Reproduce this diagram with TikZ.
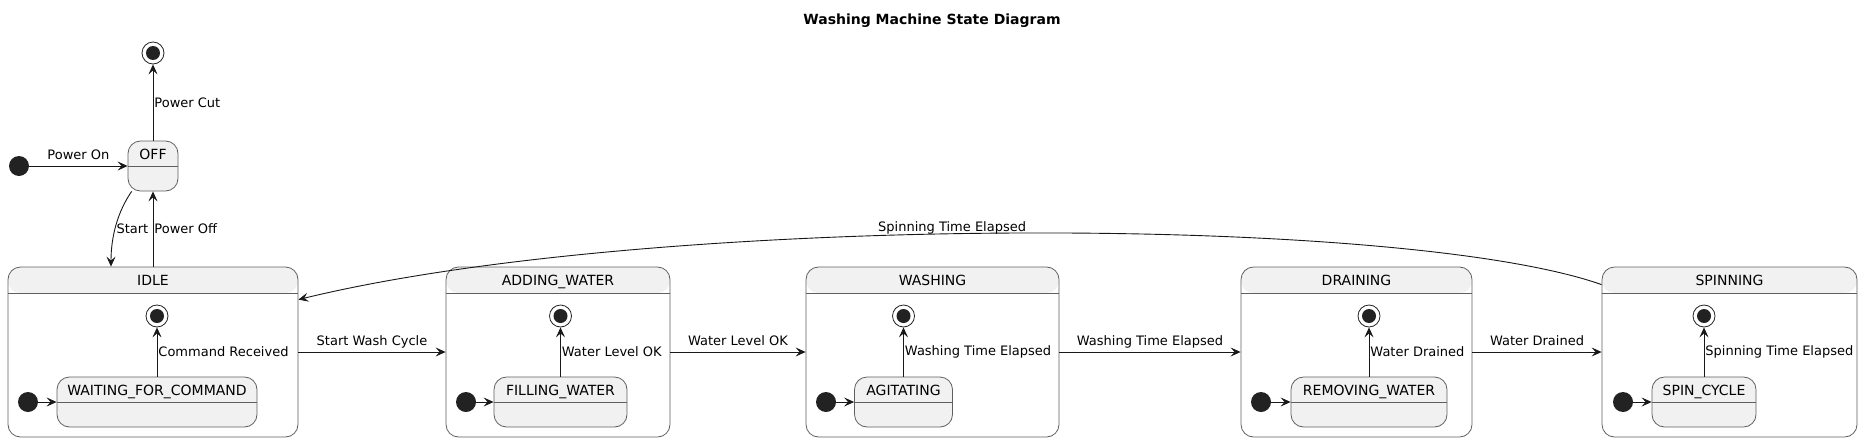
\documentclass[tikz,border=0pt]{standalone}
\usepackage{fontspec}
\setmainfont{DejaVu Sans}
\usetikzlibrary{arrows.meta}

\definecolor{stateFill}{HTML}{F1F1F1}
\definecolor{stateLine}{HTML}{5F5F5F}
\definecolor{dotFill}{HTML}{222222}
\definecolor{arrowLine}{HTML}{181818}

\newcommand{\namefont}{\fontsize{14}{16}\selectfont}
\newcommand{\lblfont}{\fontsize{13}{15}\selectfont}

\begin{document}
\begin{tikzpicture}[x=1pt, y=-1pt]
	% Node styles
	\tikzstyle{composite} = [rectangle, draw=stateLine, line width=0.8pt, fill=white, rounded corners=12.5pt, inner xsep=0pt, inner ysep=0pt, text height=18.5pt, text depth=151.5pt, font=\namefont,
		path picture={\fill[stateFill] (path picture bounding box.north west) rectangle ([yshift=-26pt]path picture bounding box.north east);
			\draw[stateLine, line width=0.8pt] ([yshift=-26pt]path picture bounding box.north west) -- ([yshift=-26pt]path picture bounding box.north east);}]
	\tikzstyle{simplestate} = [rectangle, draw=stateLine, line width=0.8pt, fill=stateFill, rounded corners=12.5pt, inner xsep=0pt, inner ysep=0pt, text height=18.5pt, text depth=31.5pt, font=\namefont,
		path picture={\draw[stateLine, line width=0.8pt] ([yshift=-25.5pt]path picture bounding box.north west) -- ([yshift=-25.5pt]path picture bounding box.north east);}]
	\tikzstyle{startdot} = [circle, fill=dotFill, minimum size=20pt, inner sep=0pt]
	\tikzstyle{enddot} = [circle, draw=dotFill, line width=0.8pt, fill=white, minimum size=22pt, inner sep=0pt,
		path picture={\fill[dotFill] (path picture bounding box.center) circle (7pt);}]
	\tikzstyle{trans} = [draw=arrowLine, line width=0.9pt, -{Stealth[length=10pt, width=9pt, inset=4pt]}]
	\tikzstyle{lbl} = [font=\lblfont, inner sep=1pt, text=black]

	\useasboundingbox (0,0) rectangle (1865,442);

	% Title
	\node[lbl, font=\bfseries\namefont, anchor=base] (title) at (932,24) {Washing Machine State Diagram};

	% Nodes
	\node[startdot] (offStart) at (19,166) {};
	\node[simplestate, minimum width=50pt] (off) at (153,166) {OFF};
	\node[enddot] (offEnd) at (153,53) {};

	\node[composite, minimum width=290pt] (idle) at (153,352) {IDLE};
	\node[enddot] (idleEnd) at (157,316) {};
	\node[startdot] (idleStart) at (28,402) {};
	\node[simplestate, minimum width=200pt] (waitingForCommand) at (157,402) {WAITING\_FOR\_COMMAND};

	\node[composite, minimum width=224pt] (addingWater) at (558,352) {ADDING\_WATER};
	\node[enddot] (addingWaterEnd) at (560.5,316) {};
	\node[startdot] (addingWaterStart) at (466,402) {};
	\node[simplestate, minimum width=133pt] (fillingWater) at (560.5,402) {FILLING\_WATER};

	\node[composite, minimum width=253pt] (washing) at (932.5,352) {WASHING};
	\node[enddot] (washingEnd) at (903.5,316) {};
	\node[startdot] (washingStart) at (826,402) {};
	\node[simplestate, minimum width=98pt] (agitating) at (903.5,402) {AGITATING};

	\node[composite, minimum width=231pt] (draining) at (1356.5,352) {DRAINING};
	\node[enddot] (drainingEnd) at (1369,316) {};
	\node[startdot] (drainingStart) at (1261,402) {};
	\node[simplestate, minimum width=156pt] (removingWater) at (1369,402) {REMOVING\_WATER};

	\node[composite, minimum width=255pt] (spinning) at (1729.5,352) {SPINNING};
	\node[enddot] (spinningEnd) at (1704,316) {};
	\node[startdot] (spinningStart) at (1623,402) {};
	\node[simplestate, minimum width=104pt] (spinCycle) at (1704,402) {SPIN\_CYCLE};

	% Arrows
	\draw[trans] (offStart) -- node[lbl, anchor=base, yshift=7pt] {Power On} (off);
	\draw[trans] (off) -- node[lbl, right] {Power Cut} (offEnd);
	\draw[trans] (off.230) .. controls +(-14,20) and +(0,-30) .. node[lbl, pos=0.55, anchor=west] {Start} ([xshift=-42pt]idle.north);
	\draw[trans] (idle.north) -- node[lbl, right] {Power Off} (off);

	\draw[trans] (idle) -- node[lbl, anchor=base, yshift=7pt] {Start Wash Cycle} (addingWater);
	\draw[trans] (addingWater) -- node[lbl, anchor=base, yshift=7pt] {Water Level OK} (washing);
	\draw[trans] (washing) -- node[lbl, anchor=base, yshift=7pt] {Washing Time Elapsed} (draining);
	\draw[trans] (draining) -- node[lbl, anchor=base, yshift=7pt] {Water Drained} (spinning);
	\draw[trans] ([yshift=-18pt]spinning.north west) .. controls +(-202,-71) and +(352,-86) .. node[lbl, pos=0.535, anchor=base, yshift=2pt] {Spinning Time Elapsed} ([yshift=-33pt]idle.north east);

	\draw[trans] (idleStart) -- (waitingForCommand);
	\draw[trans] (waitingForCommand) -- node[lbl, right] {Command Received} (idleEnd);
	\draw[trans] (addingWaterStart) -- (fillingWater);
	\draw[trans] (fillingWater) -- node[lbl, right] {Water Level OK} (addingWaterEnd);
	\draw[trans] (washingStart) -- (agitating);
	\draw[trans] (agitating) -- node[lbl, right] {Washing Time Elapsed} (washingEnd);
	\draw[trans] (drainingStart) -- (removingWater);
	\draw[trans] (removingWater) -- node[lbl, right] {Water Drained} (drainingEnd);
	\draw[trans] (spinningStart) -- (spinCycle);
	\draw[trans] (spinCycle) -- node[lbl, right] {Spinning Time Elapsed} (spinningEnd);
\end{tikzpicture}
\end{document}
